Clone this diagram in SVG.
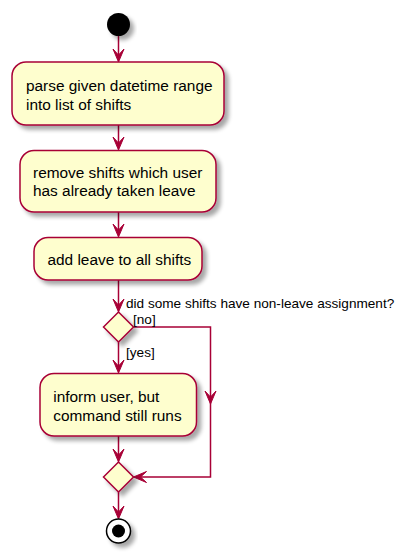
<svg xmlns="http://www.w3.org/2000/svg" width="408" height="556" viewBox="0 0 408 556">
<style>
.act{fill:#FEFECE;stroke:#A80036;stroke-width:1.5;filter:url(#sh)}
.t{font-family:"Liberation Sans",Arial,sans-serif;font-size:15.4px;fill:#000}
.l{font-family:"Liberation Sans",Arial,sans-serif;font-size:13.6px;fill:#000}
.c{fill:none;stroke:#A80036;stroke-width:1.5}
</style>
<defs>
<filter id="sh" x="-20%" y="-20%" width="150%" height="160%">
<feGaussianBlur in="SourceAlpha" stdDeviation="2"/>
<feOffset dx="4" dy="4" result="b"/>
<feComponentTransfer><feFuncA type="linear" slope="0.35"/></feComponentTransfer>
<feMerge><feMergeNode/><feMergeNode in="SourceGraphic"/></feMerge>
</filter>
<marker id="ah" viewBox="-7 -7 15 14" refX="0" refY="0" markerWidth="15" markerHeight="14" markerUnits="userSpaceOnUse" orient="auto">
<path d="M7,0 L-6,-5.5 L0,0 L-6,5.5 Z" fill="#A80036" stroke="#A80036" stroke-width="1"/>
</marker>
</defs>
<g id="connectors">
<path class="c" d="M118.5,36 V55" marker-end="url(#ah)"/>
<path class="c" d="M118.5,125 V143" marker-end="url(#ah)"/>
<path class="c" d="M118.5,212 V230" marker-end="url(#ah)"/>
<path class="c" d="M118.5,280 V305" marker-end="url(#ah)"/>
<path class="c" d="M118.5,342 V366" marker-end="url(#ah)"/>
<path class="c" d="M118.5,436 V455" marker-end="url(#ah)"/>
<path class="c" d="M118.5,492 V512" marker-end="url(#ah)"/>
<path class="c" d="M133.5,327 H210.5 V397" marker-end="url(#ah)"/>
<path class="c" d="M210.5,397 V477 H140.5" marker-end="url(#ah)"/>
<text class="l" x="126" y="308">did some shifts have non-leave assignment?</text>
<text class="l" x="133" y="324">[no]</text>
<text class="l" x="126" y="357">[yes]</text>
</g>
<g id="start"><circle cx="118.5" cy="24.5" r="11.5" fill="#000" filter="url(#sh)"/></g>
<g id="parse">
<rect class="act" x="12" y="62" width="212" height="63" rx="14"/>
<text class="t" x="26" y="91">parse given datetime range</text>
<text class="t" x="26" y="109.5">into list of shifts</text>
</g>
<g id="remove">
<rect class="act" x="20" y="150.5" width="196" height="61.5" rx="14"/>
<text class="t" x="33" y="177.5">remove shifts which user</text>
<text class="t" x="33" y="196">has already taken leave</text>
</g>
<g id="add">
<rect class="act" x="34" y="237.5" width="168" height="42.5" rx="14"/>
<text class="t" x="47.5" y="265">add leave to all shifts</text>
</g>
<g id="decision">
<polygon class="act" points="118.5,312 133.5,327 118.5,342 103.5,327"/>
</g>
<g id="inform">
<rect class="act" x="40" y="373.5" width="156.5" height="62.5" rx="14"/>
<text class="t" x="53.3" y="402">inform user, but</text>
<text class="t" x="53.3" y="420.5">command still runs</text>
</g>
<g id="merge">
<polygon class="act" points="118.5,462 133.5,477 118.5,492 103.5,477"/>
</g>
<g id="end">
<circle cx="118.5" cy="531" r="12" fill="#fff" stroke="#000" stroke-width="1.5" filter="url(#sh)"/>
<circle cx="118.5" cy="531" r="6.5" fill="#000"/>
</g>
</svg>
